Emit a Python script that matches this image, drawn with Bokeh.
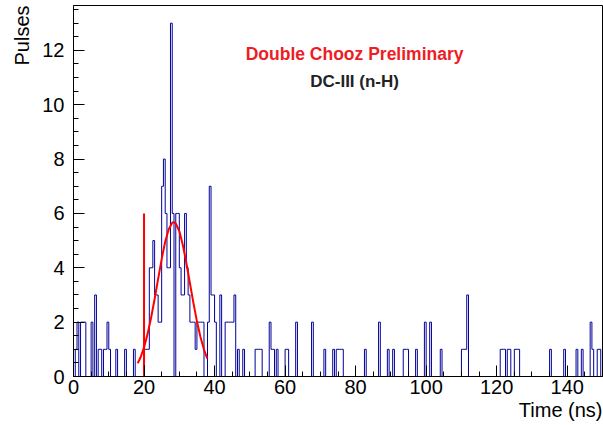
import numpy as np
from bokeh.plotting import figure
from bokeh.models import Range1d, SingleIntervalTicker, Label, Title
from bokeh.embed import file_html
from bokeh.resources import INLINE

# ---------------- data ----------------
bin_width = 0.5
x_min, x_max = 0.0, 150.0
y_max = 13.65

# lower edges (ns) of non-empty bins and their pulse counts
bin_lo = [0.5, 1.0, 2.0, 2.5, 3.0, 5.0, 6.0, 7.0, 7.5, 8.5, 9.0, 9.5, 10.0, 12.0,
          14.5, 17.0, 20.0, 20.5, 21.0, 21.5, 22.0, 22.5, 23.0, 23.5, 24.0, 24.5,
          25.0, 25.5, 26.0, 26.5, 27.0, 27.5, 28.0, 29.0, 29.5, 30.0, 30.5, 31.0,
          31.5, 32.0, 32.5, 33.0, 33.5, 34.0, 34.5, 35.0, 35.5, 36.0, 36.5, 38.0,
          38.5, 39.0, 39.5, 40.0, 41.5, 43.0, 43.5, 44.0, 44.5, 45.0, 45.5, 46.5,
          48.0, 51.5, 52.0, 52.5, 53.0, 55.5, 56.0, 56.5, 57.5, 60.0, 60.5, 63.0,
          67.5, 71.0, 73.5, 74.5, 75.0, 75.5, 76.0, 82.5, 86.5, 89.0, 90.5, 93.5,
          94.0, 94.5, 97.0, 99.5, 101.0, 104.0, 110.0, 110.5, 111.0, 111.5, 121.0,
          121.5, 122.0, 123.0, 123.5, 125.0, 125.5, 126.0, 135.0, 139.0, 142.5,
          144.0, 146.5, 147.0, 148.5, 149.0]
bin_counts = [1, 2, 2, 2, 2, 2, 3, 1, 1, 1, 1, 2, 1, 1,
              1, 1, 1, 1, 1, 4, 4, 5, 3, 3, 2, 2,
              7, 8, 6, 4, 4, 13, 6, 6, 6, 4, 3, 3,
              6, 4, 3, 2, 2, 2, 1, 2, 2, 2, 2, 2,
              7, 3, 3, 2, 3, 2, 2, 2, 2, 2, 3, 1,
              1, 1, 1, 1, 1, 2, 1, 1, 1, 1, 1, 2,
              2, 1, 1, 1, 1, 1, 1, 1, 2, 1, 1, 1,
              1, 1, 1, 2, 2, 1, 1, 1, 1, 3, 1,
              1, 1, 1, 1, 1, 1, 1, 1, 1, 1,
              1, 2, 1, 1, 1]

# gaussian fit curve
fit_t = [18.2, 19, 20, 21, 22, 23, 24, 25, 26, 27, 28, 28.4, 29, 30, 31, 32,
         33, 34, 35, 36, 37, 37.9]
fit_y = [0.49, 0.70, 1.07, 1.56, 2.16, 2.85, 3.59, 4.32, 4.96, 5.42, 5.66, 5.68,
         5.63, 5.35, 4.84, 4.18, 3.44, 2.71, 2.03, 1.45, 0.99, 0.67]

# window start marker
marker_t = [20.0]
marker_h = [6.0]

title_1 = "Double Chooz Preliminary"
title_2 = "DC-III (n-H)"
x_title = "Time (ns)"
y_title = "Pulses"

# ---------------- build ----------------
n_bins = int(round((x_max - x_min) / bin_width))
counts = np.zeros(n_bins)
for t, c in zip(bin_lo, bin_counts):
    counts[int(round((t - x_min) / bin_width))] = c
edges = x_min + bin_width * np.arange(n_bins + 1)
step_y = np.append(counts, counts[-1])

p = figure(width=603, height=425, output_backend="svg", toolbar_location=None,
           x_range=Range1d(x_min, x_max), y_range=Range1d(0, y_max),
           min_border_left=73, min_border_right=1, min_border_top=5,
           min_border_bottom=49)
p.background_fill_color = "white"
p.border_fill_color = "white"
p.outline_line_color = "black"
p.outline_line_width = 1
p.grid.visible = False

p.step(edges, step_y, mode="after", line_color="#000099", line_width=1)
p.line(fit_t, fit_y, line_color="#ff0000", line_width=2)
p.segment(x0=marker_t, y0=[0] * len(marker_t), x1=marker_t, y1=marker_h,
          line_color="#ff0000", line_width=2)

font = "Liberation Sans"
p.xaxis.ticker = SingleIntervalTicker(interval=20, num_minor_ticks=4)
p.yaxis.ticker = SingleIntervalTicker(interval=2, num_minor_ticks=4)
for ax in (p.xaxis, p.yaxis):
    ax.major_tick_in = 11
    ax.major_tick_out = 0
    ax.minor_tick_in = 5
    ax.minor_tick_out = 0
    ax.axis_line_color = "black"
    ax.major_tick_line_color = "black"
    ax.minor_tick_line_color = "black"
    ax.major_label_text_font = font
    ax.major_label_text_font_size = "20px"
    ax.major_label_text_color = "black"
p.xaxis.major_label_standoff = 3
p.yaxis.major_label_standoff = 9

p.add_layout(Title(text=x_title, align="right", text_font=font,
                   text_font_size="20px", text_font_style="normal",
                   text_color="black", standoff=0), "below")
p.add_layout(Title(text=y_title, align="right", text_font=font,
                   text_font_size="20px", text_font_style="normal",
                   text_color="black", standoff=14), "left")

p.add_layout(Label(x=79.7, y=11.85, text=title_1, text_font=font,
                   text_font_size="17.5px", text_font_style="bold",
                   text_color="#ee1c24", text_align="center",
                   text_baseline="alphabetic"))
p.add_layout(Label(x=79.7, y=10.87, text=title_2, text_font=font,
                   text_font_size="17px", text_font_style="bold",
                   text_color="#222222", text_align="center",
                   text_baseline="alphabetic"))

open("out.html", "w").write(file_html(p, INLINE))
